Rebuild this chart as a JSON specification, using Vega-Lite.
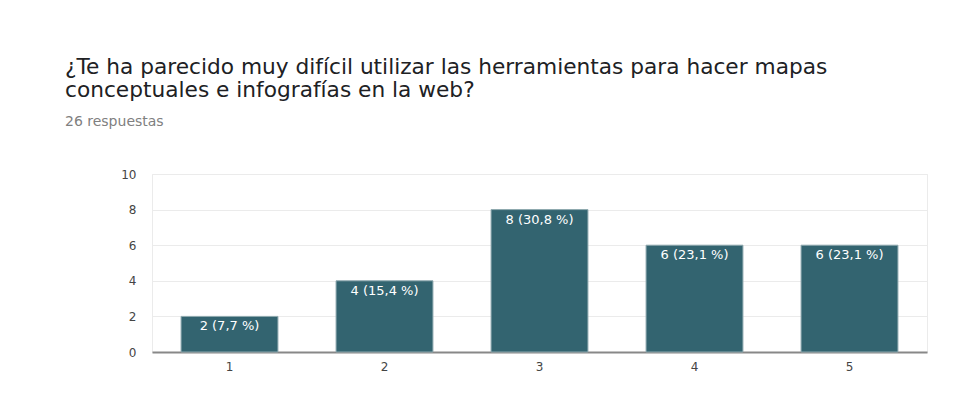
{
  "$schema": "https://vega.github.io/schema/vega-lite/v6.json",
  "autosize": "none",
  "width": 775,
  "height": 178,
  "padding": {"left": 152, "top": 174, "right": 30, "bottom": 64},
  "background": "white",
  "title": {
    "text": ["¿Te ha parecido muy difícil utilizar las herramientas para hacer mapas", "conceptuales e infografías en la web?"],
    "subtitle": "26 respuestas",
    "anchor": "start",
    "frame": "group",
    "dx": -87,
    "offset": 39,
    "font": "DejaVu Sans",
    "fontSize": 21.7,
    "fontWeight": "normal",
    "lineHeight": 23,
    "color": "#202124",
    "subtitleFont": "DejaVu Sans",
    "subtitleFontSize": 14,
    "subtitleColor": "#808080",
    "subtitlePadding": 13
  },
  "data": {
    "values": [
      {"opcion": "1", "respuestas": 2, "etiqueta": "2 (7,7 %)"},
      {"opcion": "2", "respuestas": 4, "etiqueta": "4 (15,4 %)"},
      {"opcion": "3", "respuestas": 8, "etiqueta": "8 (30,8 %)"},
      {"opcion": "4", "respuestas": 6, "etiqueta": "6 (23,1 %)"},
      {"opcion": "5", "respuestas": 6, "etiqueta": "6 (23,1 %)"}
    ]
  },
  "encoding": {
    "x": {
      "field": "opcion", "type": "ordinal", "title": null,
      "scale": {"paddingInner": 0.375, "paddingOuter": 0.1875},
      "axis": {"labelAngle": 0, "ticks": false, "domainColor": "#888888", "domainWidth": 2, "labelPadding": 9, "labelFont": "DejaVu Sans", "labelFontSize": 12, "labelColor": "#444444", "grid": false}
    },
    "y": {
      "field": "respuestas", "type": "quantitative", "title": null,
      "scale": {"domain": [0, 10]},
      "axis": {"values": [0, 2, 4, 6, 8, 10], "ticks": false, "domain": false, "labelPadding": 16, "labelFont": "DejaVu Sans", "labelFontSize": 12, "labelColor": "#444444", "gridColor": "#ebebeb", "gridWidth": 1}
    }
  },
  "layer": [
    {"mark": {"type": "bar", "color": "#336470", "stroke": "#8fa9af", "strokeWidth": 1}},
    {"mark": {"type": "text", "baseline": "top", "dy": 4, "color": "white", "font": "DejaVu Sans", "fontSize": 13}, "encoding": {"text": {"field": "etiqueta"}}}
  ],
  "config": {"view": {"stroke": "#ebebeb"}}
}
